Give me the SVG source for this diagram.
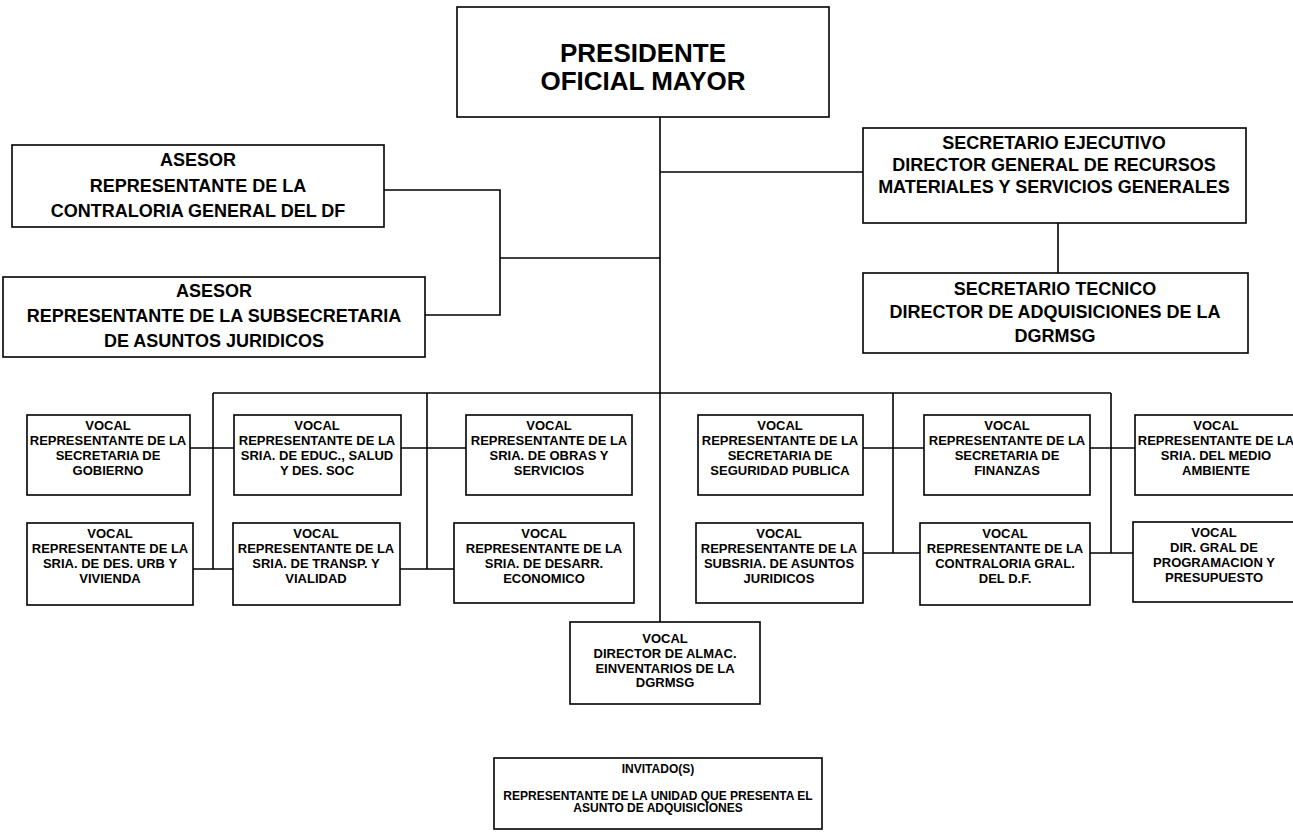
<svg xmlns="http://www.w3.org/2000/svg" width="1293" height="837" viewBox="0 0 1293 837">
<style>
  .box { fill: #ffffff; stroke: #000000; stroke-width: 1.6; }
  .ln { fill: none; stroke: #000000; stroke-width: 1.6; }
  text { font-family: "Liberation Sans", Arial, sans-serif; font-weight: bold; fill: #000000; text-anchor: middle; }
  .t1 { font-size: 26px; }
  .t2 { font-size: 18px; }
  .t3 { font-size: 13px; }
  .t4 { font-size: 12px; }
</style>
<rect x="0" y="0" width="1293" height="837" fill="#ffffff"/>
<g id="connectors">
  <path class="ln" d="M660 117 V622"/>
  <path class="ln" d="M660 172 H863"/>
  <path class="ln" d="M1058 223 V273"/>
  <path class="ln" d="M384 190 H500 V315 H425"/>
  <path class="ln" d="M500 258 H660"/>
  <path class="ln" d="M213 393 H1111"/>
  <path class="ln" d="M213 393 V569"/>
  <path class="ln" d="M427 393 V569"/>
  <path class="ln" d="M893 393 V553"/>
  <path class="ln" d="M1111 393 V553"/>
  <path class="ln" d="M190 448 H234"/>
  <path class="ln" d="M401 448 H466"/>
  <path class="ln" d="M863 448 H924"/>
  <path class="ln" d="M1090 448 H1135"/>
  <path class="ln" d="M193 569 H233"/>
  <path class="ln" d="M400 569 H454"/>
  <path class="ln" d="M863 553 H920"/>
  <path class="ln" d="M1090 553 H1133"/>
</g>
<g id="presidente">
  <rect class="box" x="457" y="7" width="372" height="110"/>
  <text class="t1" x="643" y="62">PRESIDENTE</text>
  <text class="t1" x="643" y="90">OFICIAL MAYOR</text>
</g>
<g id="asesor1">
  <rect class="box" x="12" y="145" width="372" height="82"/>
  <text class="t2" x="198" y="166">ASESOR</text>
  <text class="t2" x="198" y="192">REPRESENTANTE DE LA</text>
  <text class="t2" x="198" y="217">CONTRALORIA GENERAL DEL DF</text>
</g>
<g id="asesor2">
  <rect class="box" x="3" y="277" width="422" height="80"/>
  <text class="t2" x="214" y="297">ASESOR</text>
  <text class="t2" x="214" y="322">REPRESENTANTE DE LA SUBSECRETARIA</text>
  <text class="t2" x="214" y="347">DE ASUNTOS JURIDICOS</text>
</g>
<g id="sec-ejecutivo">
  <rect class="box" x="863" y="128" width="383" height="95"/>
  <text class="t2" x="1054" y="149">SECRETARIO EJECUTIVO</text>
  <text class="t2" x="1054" y="171">DIRECTOR GENERAL DE RECURSOS</text>
  <text class="t2" x="1054" y="193">MATERIALES Y SERVICIOS GENERALES</text>
</g>
<g id="sec-tecnico">
  <rect class="box" x="863" y="273" width="385" height="80"/>
  <text class="t2" x="1055" y="295">SECRETARIO TECNICO</text>
  <text class="t2" x="1055" y="318">DIRECTOR DE ADQUISICIONES DE LA</text>
  <text class="t2" x="1055" y="342">DGRMSG</text>
</g>
<g id="vocal-gobierno">
  <rect class="box" x="27" y="415" width="163" height="80"/>
  <text class="t3" x="108" y="430">VOCAL</text>
  <text class="t3" x="108" y="445">REPRESENTANTE DE LA</text>
  <text class="t3" x="108" y="460">SECRETARIA DE</text>
  <text class="t3" x="108" y="475">GOBIERNO</text>
</g>
<g id="vocal-educ">
  <rect class="box" x="234" y="415" width="167" height="80"/>
  <text class="t3" x="317" y="430">VOCAL</text>
  <text class="t3" x="317" y="445">REPRESENTANTE DE LA</text>
  <text class="t3" x="317" y="460">SRIA. DE EDUC., SALUD</text>
  <text class="t3" x="317" y="475">Y DES. SOC</text>
</g>
<g id="vocal-obras">
  <rect class="box" x="466" y="415" width="166" height="80"/>
  <text class="t3" x="549" y="430">VOCAL</text>
  <text class="t3" x="549" y="445">REPRESENTANTE DE LA</text>
  <text class="t3" x="549" y="460">SRIA. DE OBRAS Y</text>
  <text class="t3" x="549" y="475">SERVICIOS</text>
</g>
<g id="vocal-seguridad">
  <rect class="box" x="698" y="415" width="165" height="80"/>
  <text class="t3" x="780" y="430">VOCAL</text>
  <text class="t3" x="780" y="445">REPRESENTANTE DE LA</text>
  <text class="t3" x="780" y="460">SECRETARIA DE</text>
  <text class="t3" x="780" y="475">SEGURIDAD PUBLICA</text>
</g>
<g id="vocal-finanzas">
  <rect class="box" x="924" y="415" width="166" height="80"/>
  <text class="t3" x="1007" y="430">VOCAL</text>
  <text class="t3" x="1007" y="445">REPRESENTANTE DE LA</text>
  <text class="t3" x="1007" y="460">SECRETARIA DE</text>
  <text class="t3" x="1007" y="475">FINANZAS</text>
</g>
<g id="vocal-medio-ambiente">
  <rect class="box" x="1135" y="415" width="165" height="80"/>
  <text class="t3" x="1216" y="430">VOCAL</text>
  <text class="t3" x="1216" y="445">REPRESENTANTE DE LA</text>
  <text class="t3" x="1216" y="460">SRIA. DEL MEDIO</text>
  <text class="t3" x="1216" y="475">AMBIENTE</text>
</g>
<g id="vocal-des-urb">
  <rect class="box" x="27" y="523" width="166" height="82"/>
  <text class="t3" x="110" y="538">VOCAL</text>
  <text class="t3" x="110" y="553">REPRESENTANTE DE LA</text>
  <text class="t3" x="110" y="568">SRIA. DE DES. URB  Y</text>
  <text class="t3" x="110" y="583">VIVIENDA</text>
</g>
<g id="vocal-transp">
  <rect class="box" x="233" y="523" width="167" height="82"/>
  <text class="t3" x="316" y="538">VOCAL</text>
  <text class="t3" x="316" y="553">REPRESENTANTE DE LA</text>
  <text class="t3" x="316" y="568">SRIA. DE TRANSP. Y</text>
  <text class="t3" x="316" y="583">VIALIDAD</text>
</g>
<g id="vocal-desarr">
  <rect class="box" x="454" y="523" width="180" height="80"/>
  <text class="t3" x="544" y="538">VOCAL</text>
  <text class="t3" x="544" y="553">REPRESENTANTE DE LA</text>
  <text class="t3" x="544" y="568">SRIA. DE DESARR.</text>
  <text class="t3" x="544" y="583">ECONOMICO</text>
</g>
<g id="vocal-subsria">
  <rect class="box" x="696" y="523" width="167" height="80"/>
  <text class="t3" x="779" y="538">VOCAL</text>
  <text class="t3" x="779" y="553">REPRESENTANTE DE LA</text>
  <text class="t3" x="779" y="568">SUBSRIA. DE ASUNTOS</text>
  <text class="t3" x="779" y="583">JURIDICOS</text>
</g>
<g id="vocal-contraloria">
  <rect class="box" x="920" y="523" width="170" height="82"/>
  <text class="t3" x="1005" y="538">VOCAL</text>
  <text class="t3" x="1005" y="553">REPRESENTANTE DE LA</text>
  <text class="t3" x="1005" y="568">CONTRALORIA GRAL.</text>
  <text class="t3" x="1005" y="583">DEL D.F.</text>
</g>
<g id="vocal-programacion">
  <rect class="box" x="1133" y="522" width="167" height="80"/>
  <text class="t3" x="1214" y="537">VOCAL</text>
  <text class="t3" x="1214" y="552">DIR. GRAL DE</text>
  <text class="t3" x="1214" y="567">PROGRAMACION Y</text>
  <text class="t3" x="1214" y="582">PRESUPUESTO</text>
</g>
<g id="vocal-almacenes">
  <rect class="box" x="570" y="622" width="190" height="82"/>
  <text class="t3" x="665" y="643">VOCAL</text>
  <text class="t3" x="665" y="658">DIRECTOR DE ALMAC.</text>
  <text class="t3" x="665" y="673">EINVENTARIOS DE LA</text>
  <text class="t3" x="665" y="687">DGRMSG</text>
</g>
<g id="invitados">
  <rect class="box" x="494" y="758" width="328" height="71"/>
  <text class="t4" x="658" y="773">INVITADO(S)</text>
  <text class="t4" x="658" y="800">REPRESENTANTE DE LA UNIDAD QUE PRESENTA EL</text>
  <text class="t4" x="658" y="812">ASUNTO DE ADQUISICIONES</text>
</g>
</svg>
